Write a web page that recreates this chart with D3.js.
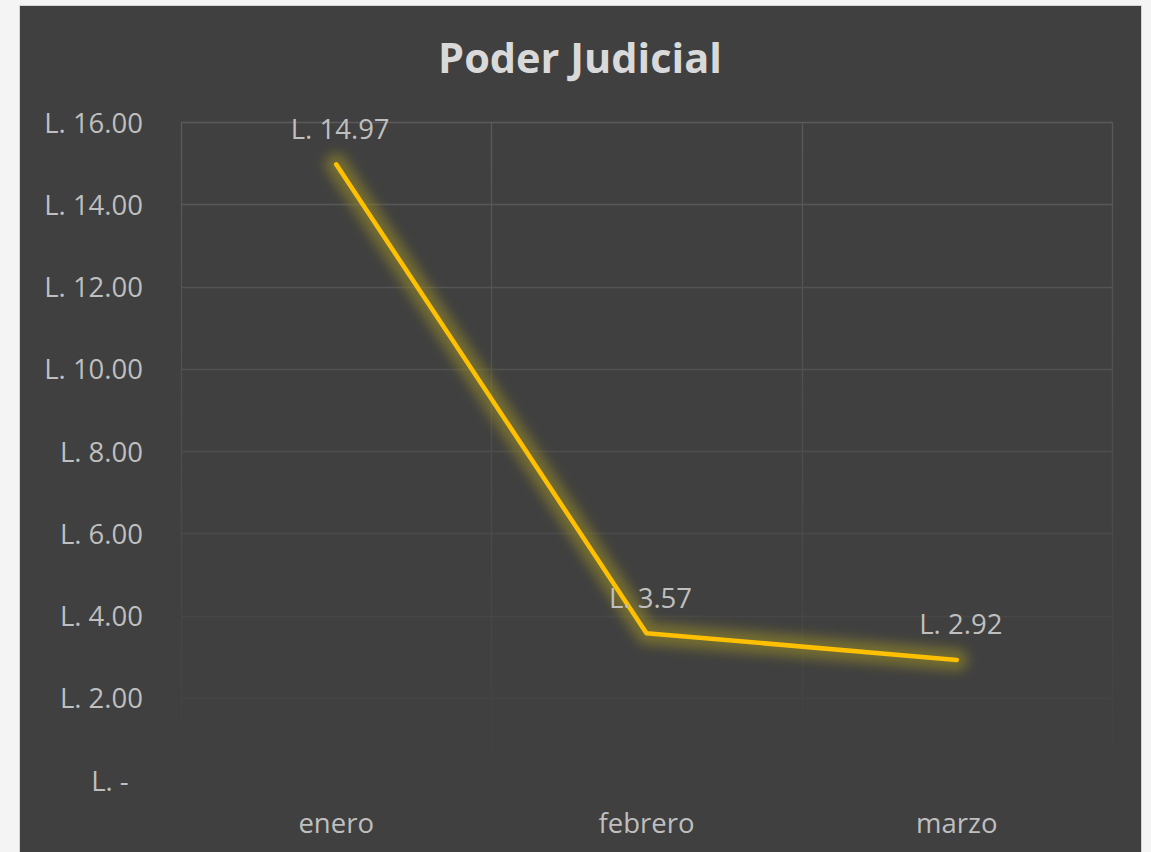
<!DOCTYPE html>
<html>
<head>
<meta charset="utf-8">
<script src="https://cdn.jsdelivr.net/npm/d3@7"></script>
<style>
  html, body { margin: 0; padding: 0; background: #f4f4f4; overflow: hidden; }
  svg { display: block; }
</style>
</head>
<body>
<svg id="chart" width="1151" height="852"></svg>
<script>
// data
const months = ["enero", "febrero", "marzo"];
const amounts = [14.97, 3.57, 2.92];
const yTicks = [0, 2, 4, 6, 8, 10, 12, 14, 16];
const title = "Poder Judicial";

const ctx = {
  w: 1151, h: 852,
  left: 181, right: 1112, top: 122, bottom: 780,
  bg: "#404040", text: "#bfbfbf", line: "#ffc000",
  font: "'Open Sans', sans-serif"
};

const svg = d3.select("#chart");

// chart box
svg.append("rect")
  .attr("x", 19.5).attr("y", 5.5)
  .attr("width", 1122).attr("height", 870)
  .attr("fill", ctx.bg)
  .attr("stroke", "#d4d4d4").attr("stroke-width", 1);

let defs = svg.append("defs");
// gridlines fade out towards the bottom
let grad = defs.append("linearGradient")
  .attr("id", "gridFade")
  .attr("gradientUnits", "userSpaceOnUse")
  .attr("x1", 0).attr("y1", ctx.top).attr("x2", 0).attr("y2", ctx.bottom);
grad.append("stop").attr("offset", "0%").attr("stop-color", "#5a5a5a");
grad.append("stop").attr("offset", "100%").attr("stop-color", "#404040");

let glow = defs.append("filter").attr("id", "glow")
  .attr("x", "-20%").attr("y", "-20%").attr("width", "140%").attr("height", "140%");
glow.append("feGaussianBlur").attr("stdDeviation", 6);

const x = d3.scaleBand().domain(months).range([ctx.left, ctx.right]).padding(0);
const y = d3.scaleLinear().domain([0, 16]).range([ctx.bottom, ctx.top]);
const cx = d => x(d) + x.bandwidth() / 2;

// horizontal gridlines
svg.append("g").selectAll("line")
  .data(yTicks)
  .enter().append("line")
  .attr("x1", ctx.left).attr("x2", ctx.right)
  .attr("y1", d => Math.round(y(d)) + 0.5).attr("y2", d => Math.round(y(d)) + 0.5)
  .attr("stroke", "url(#gridFade)").attr("stroke-width", 1.3);

// vertical gridlines at the category edges
let edges = months.map(m => x(m)).concat([ctx.right]);
svg.append("g").selectAll("line")
  .data(edges)
  .enter().append("line")
  .attr("x1", d => Math.round(d) + 0.5).attr("x2", d => Math.round(d) + 0.5)
  .attr("y1", ctx.top).attr("y2", ctx.bottom)
  .attr("stroke", "url(#gridFade)").attr("stroke-width", 1.3);

// y axis labels
const fmt = v => v === 0 ? "L. -\u00a0\u00a0" : "L. " + d3.format(".2f")(v);
svg.append("g").selectAll("text")
  .data(yTicks)
  .enter().append("text")
  .attr("x", 143).attr("y", d => y(d))
  .attr("text-anchor", "end")
  .attr("dominant-baseline", "central")
  .style("font-family", ctx.font).style("font-size", "27.5px")
  .attr("fill", ctx.text)
  .text(fmt);

// x axis labels
svg.append("g").selectAll("text")
  .data(months)
  .enter().append("text")
  .attr("x", d => cx(d)).attr("y", 822)
  .attr("text-anchor", "middle")
  .attr("dominant-baseline", "central")
  .style("font-family", ctx.font).style("font-size", "27.5px")
  .attr("fill", ctx.text)
  .text(d => d);

// line with soft glow
const pts = months.map((m, i) => [cx(m), y(amounts[i])]);
const lineGen = d3.line();
svg.append("path")
  .attr("d", lineGen(pts))
  .attr("fill", "none")
  .attr("stroke", "#968a26").attr("stroke-opacity", 0.6)
  .attr("stroke-width", 22)
  .attr("stroke-linejoin", "round").attr("stroke-linecap", "round")
  .attr("filter", "url(#glow)");
svg.append("path")
  .attr("d", lineGen(pts))
  .attr("fill", "none")
  .attr("stroke", ctx.line).attr("stroke-width", 4.5)
  .attr("stroke-linejoin", "round").attr("stroke-linecap", "round");

// data labels
svg.append("g").selectAll("text")
  .data(amounts)
  .enter().append("text")
  .attr("x", (d, i) => cx(months[i]) + 4)
  .attr("y", d => y(d) - 36)
  .attr("text-anchor", "middle")
  .attr("dominant-baseline", "central")
  .style("font-family", ctx.font).style("font-size", "27.5px")
  .attr("fill", ctx.text)
  .text(d => "L. " + d3.format(".2f")(d));

// title
svg.append("text")
  .attr("x", 580).attr("y", 57)
  .attr("text-anchor", "middle")
  .attr("dominant-baseline", "central")
  .style("font-family", ctx.font).style("font-size", "41.5px").style("font-weight", "bold")
  .attr("fill", "#d9d9d9")
  .text(title);
</script>
</body>
</html>
